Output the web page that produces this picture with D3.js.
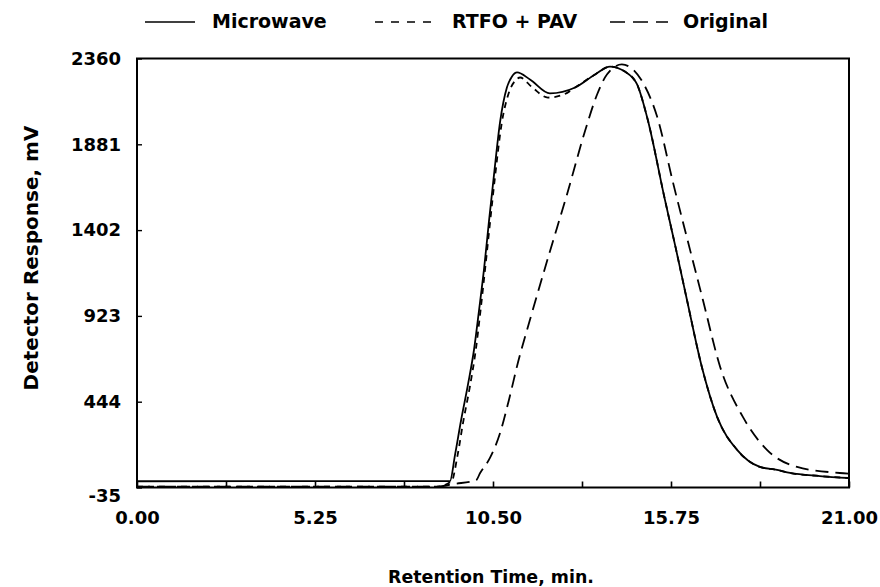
<!DOCTYPE html>
<html>
<head>
<meta charset="utf-8">
<script src="https://cdn.jsdelivr.net/npm/d3@7"></script>
<style>
  body { margin: 0; background: #fff; }
  svg text { font-family: "DejaVu Sans", "Liberation Sans", sans-serif; font-weight: bold; fill: #000; }
</style>
</head>
<body>
<svg id="chart"></svg>
<script>
// retention time (min) and detector response (mV)
const microwaveT = [0, 9.23, 9.38, 9.56, 9.76, 9.94, 10.09, 10.24, 10.38, 10.53, 10.71, 10.91, 11.06, 11.21, 11.59, 12.18, 12.92, 13.51, 13.95, 14.39, 14.75, 15.04, 15.57, 15.90, 16.22, 16.66, 17.11, 17.70, 18.37, 18.88, 19.26, 20.14, 21];
const microwaveV = [0, 1, 147, 342, 538, 734, 957, 1192, 1449, 1712, 2008, 2198, 2260, 2282, 2243, 2165, 2198, 2271, 2315, 2287, 2215, 2036, 1572, 1293, 1013, 638, 359, 175, 80, 63, 46, 29, 18];

const rtfoT = [0, 8.85, 9.28, 9.45, 9.62, 9.82, 9.99, 10.13, 10.27, 10.41, 10.56, 10.75, 10.97, 11.15, 11.30, 11.65, 12.12, 12.6, 12.92, 13.51, 13.95, 14.39, 14.75, 15.04, 15.57, 15.90, 16.22, 16.66, 17.11, 17.70, 18.37, 18.88, 19.26, 20.14, 21];
const rtfoV = [-30, -30, 0, 140, 330, 530, 730, 950, 1190, 1440, 1700, 1990, 2170, 2235, 2254, 2200, 2142, 2160, 2198, 2271, 2315, 2287, 2215, 2036, 1572, 1293, 1013, 638, 359, 175, 80, 63, 46, 29, 18];

const originalT = [0, 8.85, 9.35, 10.0, 10.12, 10.41, 10.71, 10.97, 11.24, 11.59, 12.15, 12.68, 13.21, 13.57, 13.86, 14.30, 14.63, 14.92, 15.34, 15.81, 16.31, 16.69, 17.20, 17.87, 18.58, 19.47, 20.73, 21];
const originalV = [-30, -30, -15, 5, 46, 130, 270, 454, 666, 901, 1265, 1600, 1952, 2159, 2271, 2327, 2299, 2226, 2036, 1667, 1293, 1013, 638, 359, 175, 80, 46, 42];

const seriesNames = ["Microwave", "RTFO + PAV", "Original"];
const yTicks = [-35, 444, 923, 1402, 1881, 2360];
const xTicks = [0, 2.625, 5.25, 7.875, 10.5, 13.125, 15.75, 18.375, 21];
const xLabelTicks = [0, 5.25, 10.5, 15.75, 21];

const width = 880, height = 587;
const margin = { top: 58.5, right: 31, bottom: 99.5, left: 137 };

const svg = d3.select("#chart").attr("width", width).attr("height", height);

const x = d3.scaleLinear().domain([0, 21]).range([margin.left, width - margin.right]);
const y = d3.scaleLinear().domain([-35, 2360]).range([height - margin.bottom, margin.top]);

const series = [
  { name: seriesNames[0], t: microwaveT, v: microwaveV, dash: null, legendDash: null },
  { name: seriesNames[1], t: rtfoT, v: rtfoV, dash: "6,5", legendDash: "8,8" },
  { name: seriesNames[2], t: originalT, v: originalV, dash: "13,7", legendDash: "15,8" }
];

const line = d3.line()
  .x(d => x(d[0]))
  .y(d => y(d[1]))
  .curve(d3.curveMonotoneX);

// curves
series.forEach(s => {
  svg.append("path")
    .datum(s.t.map((t, i) => [t, s.v[i]]))
    .attr("fill", "none")
    .attr("stroke", "#000")
    .attr("stroke-width", 1.8)
    .attr("stroke-dasharray", s.dash)
    .attr("d", line);
});

// frame
svg.append("rect")
  .attr("x", margin.left)
  .attr("y", margin.top)
  .attr("width", width - margin.left - margin.right)
  .attr("height", height - margin.top - margin.bottom)
  .attr("fill", "none")
  .attr("stroke", "#000")
  .attr("stroke-width", 2);

// x axis
const xAxis = svg.append("g")
  .attr("transform", `translate(0,${height - margin.bottom})`)
  .call(d3.axisBottom(x)
    .tickValues(xTicks)
    .tickSizeInner(-6)
    .tickSizeOuter(0)
    .tickPadding(24)
    .tickFormat(d => xLabelTicks.includes(d) ? d3.format(".2f")(d) : ""));
xAxis.select(".domain").remove();
xAxis.selectAll(".tick line").attr("stroke-width", 1.6);
xAxis.selectAll(".tick text").attr("font-size", 18);

// y axis
const yAxis = svg.append("g")
  .attr("transform", `translate(${margin.left},0)`)
  .call(d3.axisLeft(y)
    .tickValues(yTicks)
    .tickSizeInner(-5)
    .tickSizeOuter(0)
    .tickPadding(16)
    .tickFormat(d => String(d)));
yAxis.select(".domain").remove();
yAxis.selectAll(".tick line").attr("stroke-width", 1.4);
yAxis.selectAll(".tick text").attr("font-size", 18);
yAxis.selectAll(".tick").filter(d => d === -35).select("text").attr("dy", "0.75em");

// axis titles
svg.append("text")
  .attr("x", 491)
  .attr("y", 583)
  .attr("text-anchor", "middle")
  .attr("font-size", 17.4)
  .text("Retention Time, min.");

svg.append("text")
  .attr("transform", "translate(38,258) rotate(-90)")
  .attr("text-anchor", "middle")
  .attr("font-size", 20)
  .text("Detector Response, mV");

// legend
const legendX = [{ x1: 145, x2: 195, tx: 212 }, { x1: 375, x2: 435, tx: 452 }, { x1: 610, x2: 668, tx: 683 }];
series.forEach((s, i) => {
  const l = legendX[i];
  svg.append("line")
    .attr("x1", l.x1).attr("x2", l.x2)
    .attr("y1", 22).attr("y2", 22)
    .attr("stroke", "#000")
    .attr("stroke-width", 1.6)
    .attr("stroke-dasharray", s.legendDash);
  svg.append("text")
    .attr("x", l.tx)
    .attr("y", 28)
    .attr("font-size", 19)
    .text(s.name);
});
</script>
</body>
</html>
